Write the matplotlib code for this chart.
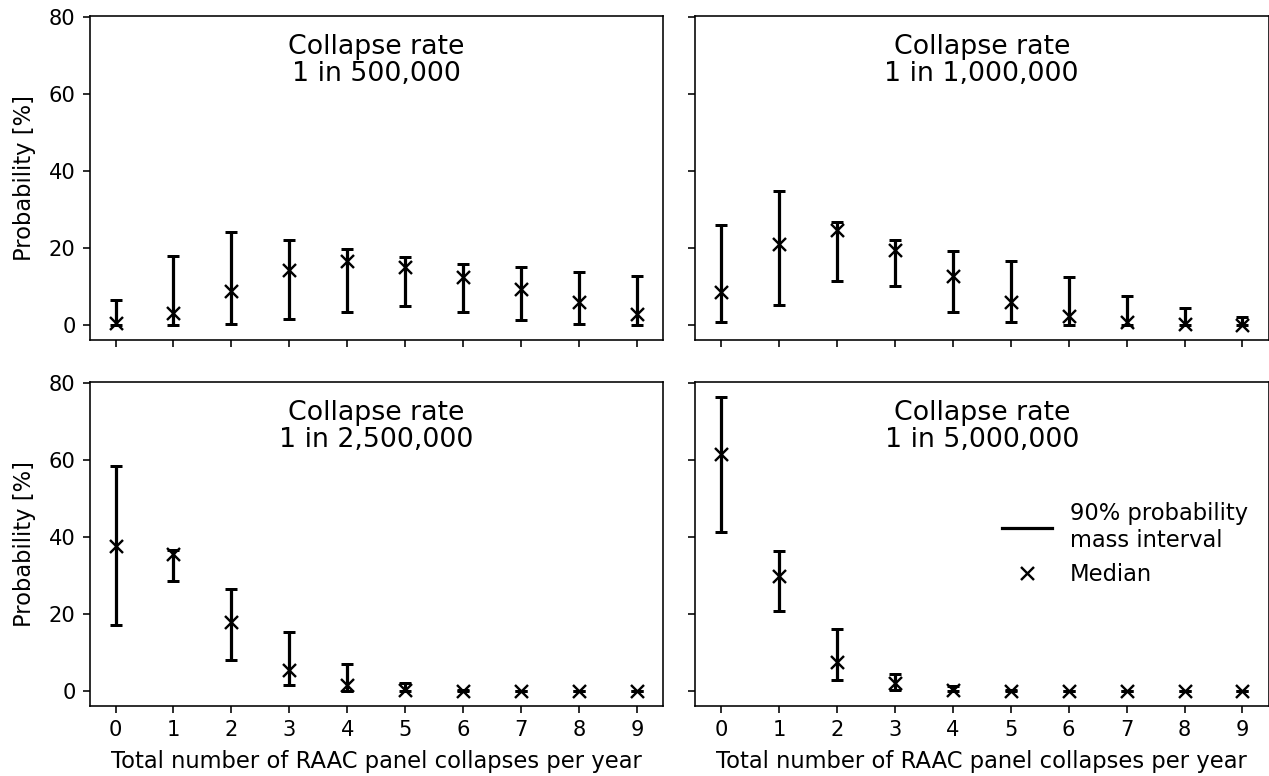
import matplotlib
matplotlib.use("Agg")
import matplotlib.pyplot as plt
from matplotlib.lines import Line2D
import numpy as np

# Number of collapses per year (x axis)
collapses = [0, 1, 2, 3, 4, 5, 6, 7, 8, 9]

# Panel titles
rates = ["1 in 500,000", "1 in 1,000,000", "1 in 2,500,000", "1 in 5,000,000"]

# Probability [%]: median and 90% interval bounds for each collapse rate
median_500k = [0.6, 3.2, 8.8, 14.3, 16.7, 15.0, 12.4, 9.3, 6.1, 3.0]
lower_500k = [0.0, 0.0, 0.4, 1.7, 3.4, 5.1, 3.4, 1.3, 0.4, 0.0]
upper_500k = [6.5, 17.9, 24.3, 22.1, 19.7, 17.6, 15.8, 15.0, 13.9, 12.9]

median_1m = [8.7, 21.0, 24.7, 19.5, 12.7, 6.1, 2.4, 0.9, 0.3, 0.2]
lower_1m = [0.9, 5.2, 11.5, 10.1, 3.4, 0.8, 0.0, 0.0, 0.0, 0.0]
upper_1m = [26.0, 34.9, 26.8, 22.1, 19.2, 16.7, 12.4, 7.7, 4.5, 2.2]

median_2_5m = [37.6, 35.6, 18.0, 5.6, 1.7, 0.4, 0.0, 0.0, 0.0, 0.0]
lower_2_5m = [17.2, 28.6, 8.2, 1.5, 0.0, 0.0, 0.0, 0.0, 0.0, 0.0]
upper_2_5m = [58.5, 36.7, 26.6, 15.4, 7.1, 2.2, 0.3, 0.1, 0.0, 0.0]

median_5m = [61.5, 29.9, 7.6, 2.2, 0.4, 0.1, 0.0, 0.0, 0.0, 0.0]
lower_5m = [41.4, 20.7, 2.8, 0.4, 0.0, 0.0, 0.0, 0.0, 0.0, 0.0]
upper_5m = [76.4, 36.5, 16.1, 4.5, 1.3, 0.3, 0.1, 0.0, 0.0, 0.0]

panels = [
    (median_500k, lower_500k, upper_500k),
    (median_1m, lower_1m, upper_1m),
    (median_2_5m, lower_2_5m, upper_2_5m),
    (median_5m, lower_5m, upper_5m),
]

DPI = 144
fig = plt.figure(figsize=(1269 / DPI, 776 / DPI), dpi=DPI)

W, H = 1269.0, 776.0
col_x = [89.5 / W, 695.0 / W]
ax_w = 573.5 / W
row_y = [1 - 340.0 / H, 1 - 706.0 / H]
ax_h = 324.0 / H

axes = []
for r in range(2):
    for c in range(2):
        kw = {}
        if axes:
            kw = dict(sharex=axes[0], sharey=axes[0])
        ax = fig.add_axes([col_x[c], row_y[r], ax_w, ax_h], **kw)
        axes.append(ax)

for i, (ax, (med, lo, hi), rate) in enumerate(zip(axes, panels, rates)):
    med = np.asarray(med)
    lo = np.asarray(lo)
    hi = np.asarray(hi)
    ax.errorbar(collapses, med, yerr=[med - lo, hi - med], fmt="none",
                ecolor="black", elinewidth=1.6, capsize=3, capthick=1.5)
    ax.plot(collapses, med, linestyle="none", marker="x", color="black",
            markersize=6.5, markeredgewidth=1.2)
    ax.text(0.5, 0.945, "Collapse rate\n" + rate, transform=ax.transAxes,
            ha="center", va="top", fontsize=13.4, linespacing=1.05)
    ax.set_xticks(collapses)
    ax.set_yticks([0, 20, 40, 60, 80])
    ax.tick_params(labelsize=10.5)
    r, c = divmod(i, 2)
    if c == 0:
        ax.set_ylabel("Probability [%]", fontsize=11.3, labelpad=6.5)
    else:
        ax.tick_params(labelleft=False)
    if r == 1:
        ax.set_xlabel("Total number of RAAC panel collapses per year",
                      fontsize=11.3, labelpad=5)
    else:
        ax.tick_params(labelbottom=False)

handles = [
    Line2D([], [], color="black", linewidth=1.6),
    Line2D([], [], linestyle="none", marker="x", color="black",
           markersize=6.5, markeredgewidth=1.2),
]
axes[3].legend(handles, ["90% probability\nmass interval", "Median"],
               loc="center right", frameon=False, fontsize=11.3,
               handlelength=2.2)

fig.savefig("out.png", dpi=DPI)
